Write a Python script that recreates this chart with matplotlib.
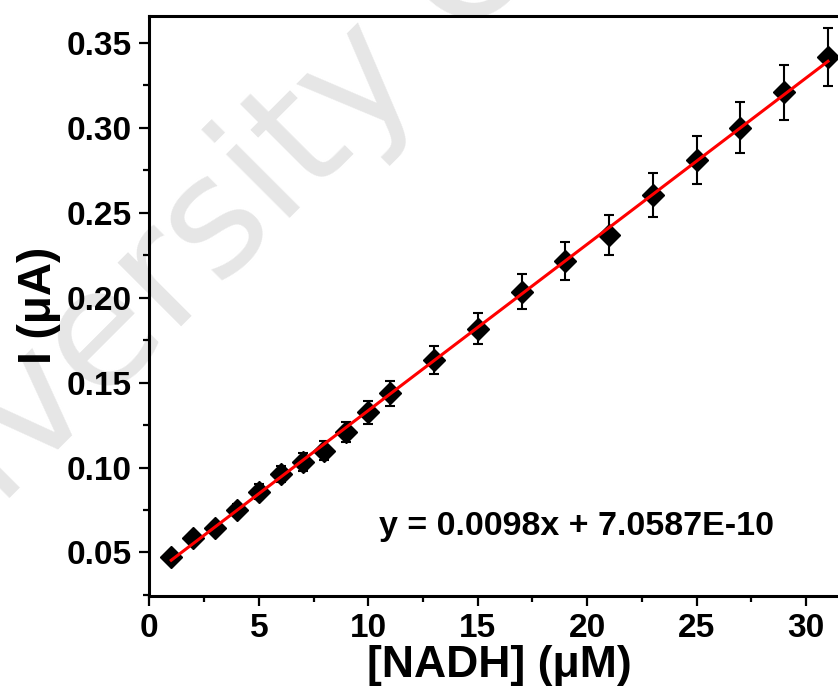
import numpy as np
import matplotlib
matplotlib.use("Agg")
import matplotlib.pyplot as plt
from matplotlib.ticker import MultipleLocator

plt.rcParams['font.family'] = ['Liberation Sans', 'DejaVu Sans']
plt.rcParams['font.weight'] = 'bold'

# NADH calibration data
conc_uM = [1, 2, 3, 4, 5, 6, 7, 8, 9, 10, 11, 13, 15, 17, 19, 21, 23, 25, 27, 29, 31]
current_uA = [0.0475, 0.0585, 0.0644, 0.0750, 0.0858, 0.0960, 0.1034, 0.1099, 0.1210,
              0.1325, 0.1436, 0.1632, 0.1817, 0.2034, 0.2215, 0.2368, 0.2606, 0.2809,
              0.3000, 0.3208, 0.3416]
current_err = [0.0024, 0.0029, 0.0032, 0.0037, 0.0043, 0.0048, 0.0052, 0.0055, 0.0060,
               0.0069, 0.0074, 0.0083, 0.0090, 0.0103, 0.0110, 0.0118, 0.0130, 0.0140,
               0.0150, 0.0160, 0.0170]
equation = "y = 0.0098x + 7.0587E-10"
x_ticks = [0, 5, 10, 15, 20, 25, 30]
y_ticks = [0.05, 0.10, 0.15, 0.20, 0.25, 0.30, 0.35]

fig = plt.figure(figsize=(8.38, 6.91), dpi=100)

# faint watermark behind everything
fig.text(-0.19, 0.035, "University C", fontsize=118, fontweight='normal',
         family='DejaVu Sans', color='#e6e6e6', rotation=45,
         rotation_mode='anchor', ha='left', va='baseline', zorder=-5)

ax = fig.add_axes([0.1782, 0.138, 0.836, 0.839])
ax.patch.set_alpha(0)

ax.errorbar(conc_uM, current_uA, yerr=current_err, fmt='D', color='black',
            markersize=11, elinewidth=1.5, capsize=3.6, capthick=1.5, zorder=3)

coef = np.polyfit(conc_uM, current_uA, 1)
xfit = np.array([conc_uM[0], conc_uM[-1]])
ax.plot(xfit, np.polyval(coef, xfit), color='red', linewidth=2.2, zorder=4)

ax.text(19.5, 0.0603, equation, fontsize=24.5, fontweight='bold',
        ha='center', va='baseline')

ax.set_xlim(0, 32)
ax.set_ylim(0.0246, 0.3658)
ax.set_xticks(x_ticks)
ax.set_yticks(y_ticks)
ax.set_xticklabels([str(t) for t in x_ticks])
ax.set_yticklabels([f"{t:.2f}" for t in y_ticks])
ax.xaxis.set_minor_locator(MultipleLocator(2.5))
ax.yaxis.set_minor_locator(MultipleLocator(0.025))

for side in ['left', 'bottom', 'top']:
    ax.spines[side].set_linewidth(2.2)
ax.spines['right'].set_visible(False)

ax.tick_params(which='major', direction='out', length=7.5, width=1.6,
               labelsize=24, pad=5)
ax.tick_params(which='minor', direction='out', length=4, width=1.6)
ax.tick_params(top=False, right=False, which='both')

ax.set_xlabel("[NADH] (\u03bcM)", fontsize=32, fontweight='bold', labelpad=1)
ax.set_ylabel("I (\u03bcA)", fontsize=33, fontweight='bold', labelpad=4)

fig.savefig("out.png", dpi=100)
